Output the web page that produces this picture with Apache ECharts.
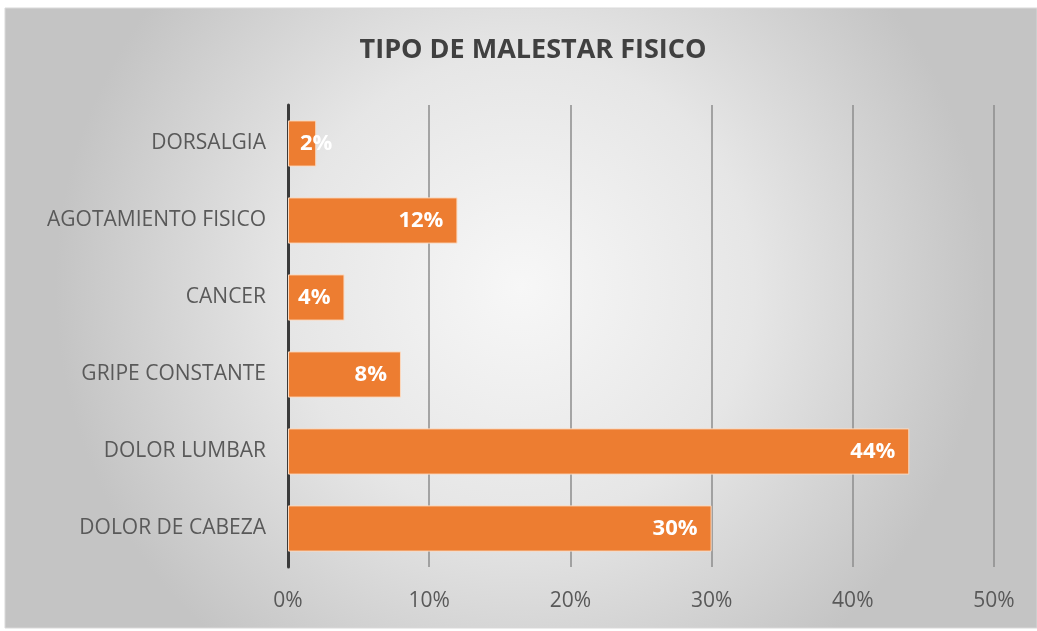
<!DOCTYPE html>
<html><head><meta charset="utf-8">
<style>html,body{margin:0;padding:0;background:#fff;}#c{width:1037px;height:631px;}</style>
<script src="https://cdn.jsdelivr.net/npm/echarts@6/dist/echarts.min.js"></script>
</head><body><div id="c"></div>
<script>
const categories = ['DOLOR DE CABEZA','DOLOR LUMBAR','GRIPE CONSTANTE','CANCER','AGOTAMIENTO FISICO','DORSALGIA'];
const values = [30, 44, 8, 4, 12, 2];
const xTicks = [0, 10, 20, 30, 40, 50];
const titleText = 'TIPO DE MALESTAR FISICO';

const barData = values.map(v => v < 3
  ? {value: v, label: {position: 'insideLeft', distance: 12}}
  : v);

const chart = echarts.init(document.getElementById('c'));
chart.setOption({
  animation: false,
  graphic: [{
    type: 'rect', z: -10, silent: true,
    shape: {x: 5, y: 8, width: 1032, height: 620},
    style: {
      fill: new echarts.graphic.RadialGradient(0.5, 0.45, 0.75, [
        {offset: 0, color: '#f7f7f7'},
        {offset: 0.5, color: '#e6e6e6'},
        {offset: 1, color: '#c4c4c4'}
      ]),
      stroke: '#d9d9d9', lineWidth: 1
    }
  }],
  title: {
    text: titleText, left: 528, top: 32, textAlign: 'center',
    textStyle: {fontFamily: 'Open Sans', fontWeight: 'bold', fontSize: 27, color: '#404040'}
  },
  grid: {left: 288, right: 43, top: 105, bottom: 64},
  xAxis: {
    type: 'value', min: xTicks[0], max: xTicks[xTicks.length-1], interval: 10,
    axisLine: {show: false}, axisTick: {show: false},
    axisLabel: {formatter: '{value}%', fontFamily: 'Open Sans', fontSize: 21, color: '#595959', margin: 24},
    splitLine: {show: true, lineStyle: {color: '#8c8c8c', width: 1.5}}
  },
  yAxis: {
    type: 'category', data: categories,
    axisLine: {show: true, lineStyle: {color: '#3a3a3a', width: 3}},
    axisTick: {show: false},
    axisLabel: {fontFamily: 'Open Sans', fontSize: 21, color: '#595959', margin: 22}
  },
  series: [{
    type: 'bar', data: barData, barCategoryGap: '40%',
    itemStyle: {color: '#ED7D31', borderColor: '#fbd9bf', borderWidth: 1},
    label: {show: true, position: 'insideRight', formatter: '{c}%', distance: 14,
      fontFamily: 'Open Sans', fontWeight: 'bold', fontSize: 22, color: '#ffffff'}
  }]
});
</script></body></html>
